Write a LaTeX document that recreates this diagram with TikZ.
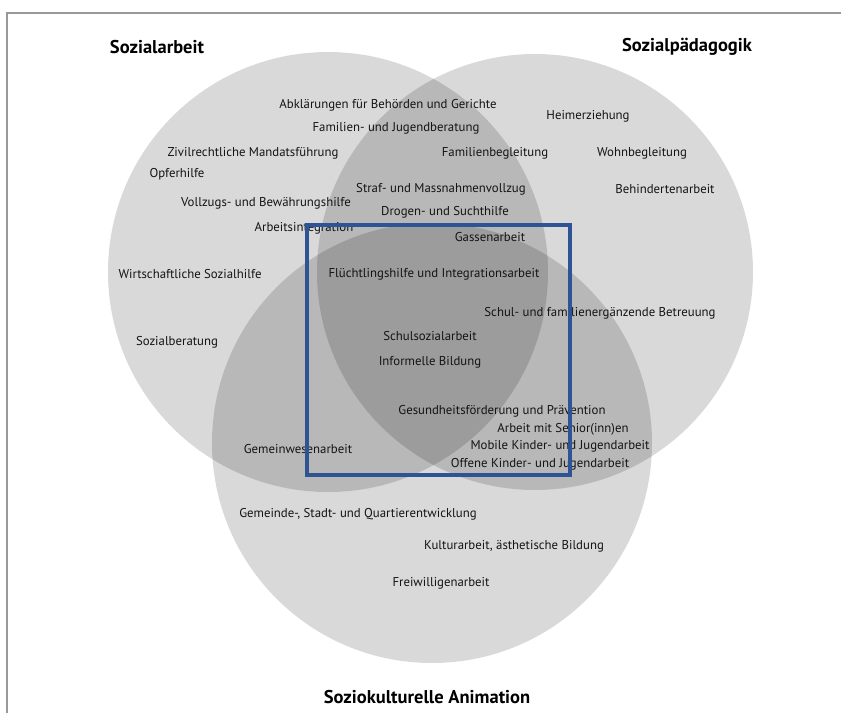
\documentclass[tikz,border=0pt]{standalone}
\usepackage{fontspec}
\setmainfont{PT Sans}
\begin{document}
\begin{tikzpicture}[x=1pt,y=-1pt,
  lbl/.style={font=\fontsize{12.8}{14}\selectfont, text=black!92, inner sep=0pt, yshift=-1pt},
  ttl/.style={font=\fontsize{18.5}{20}\selectfont\bfseries, inner sep=0pt},
  venn/.style={fill=black, fill opacity=0.15, draw=none}]
\useasboundingbox (0,0) rectangle (841,713);
\fill[white] (0,0) rectangle (841,713);
% frame
\draw[gray!80, line width=2pt] (7,713) -- (7,13) -- (841,13);
% circles
\fill[venn] (328,272) circle (220);
\fill[venn] (535,272) circle (218);
\fill[venn] (432,443) circle (220);
% titles
\node[ttl] (t1) at (157,47) {Sozialarbeit};
\node[ttl] (t2) at (687,47) {Sozialpädagogik};
\node[ttl] (t3) at (427,697) {Soziokulturelle Animation};
% labels
\node[lbl] (a1) at (388,104) {Abklärungen für Behörden und Gerichte};
\node[lbl] (a2) at (588,115) {Heimerziehung};
\node[lbl] (a3) at (396,127) {Familien- und Jugendberatung};
\node[lbl] (a4) at (253,152) {Zivilrechtliche Mandatsführung};
\node[lbl] (a5) at (495,152) {Familienbegleitung};
\node[lbl] (a6) at (642,152) {Wohnbegleitung};
\node[lbl] (a7) at (177,173) {Opferhilfe};
\node[lbl] (a8) at (441,188) {Straf- und Massnahmenvollzug};
\node[lbl] (a9) at (665,188) {Behindertenarbeit};
\node[lbl] (a10) at (266,202) {Vollzugs- und Bewährungshilfe};
\node[lbl] (a11) at (445,211) {Drogen- und Suchthilfe};
\node[lbl] (a12) at (304,227) {Arbeitsintegration};
\node[lbl] (a13) at (490,236) {Gassenarbeit};
\node[lbl] (a14) at (190,273) {Wirtschaftliche Sozialhilfe};
\node[lbl] (a15) at (434,273) {Flüchtlingshilfe und Integrationsarbeit};
\node[lbl] (a16) at (600,312) {Schul- und familienergänzende Betreuung};
\node[lbl] (a17) at (177,341) {Sozialberatung};
\node[lbl] (a18) at (430,335) {Schulsozialarbeit};
\node[lbl] (a19) at (430,361) {Informelle Bildung};
\node[lbl] (a20) at (502,410) {Gesundheitsförderung und Prävention};
\node[lbl] (a21) at (563,428) {Arbeit mit Senior(inn)en};
\node[lbl] (a22) at (298,448) {Gemeinwesenarbeit};
\node[lbl] (a23) at (560,445) {Mobile Kinder- und Jugendarbeit};
\node[lbl] (a24) at (540,463) {Offene Kinder- und Jugendarbeit};
\node[lbl] (a25) at (358,513) {Gemeinde-, Stadt- und Quartierentwicklung};
\node[lbl] (a26) at (514,545) {Kulturarbeit, ästhetische Bildung};
\node[lbl] (a27) at (441,582) {Freiwilligenarbeit};
% highlight box
\draw[draw={rgb,255:red,46;green,84;blue,150}, line width=4pt] (307,225) rectangle (570,475);
\end{tikzpicture}
\end{document}
